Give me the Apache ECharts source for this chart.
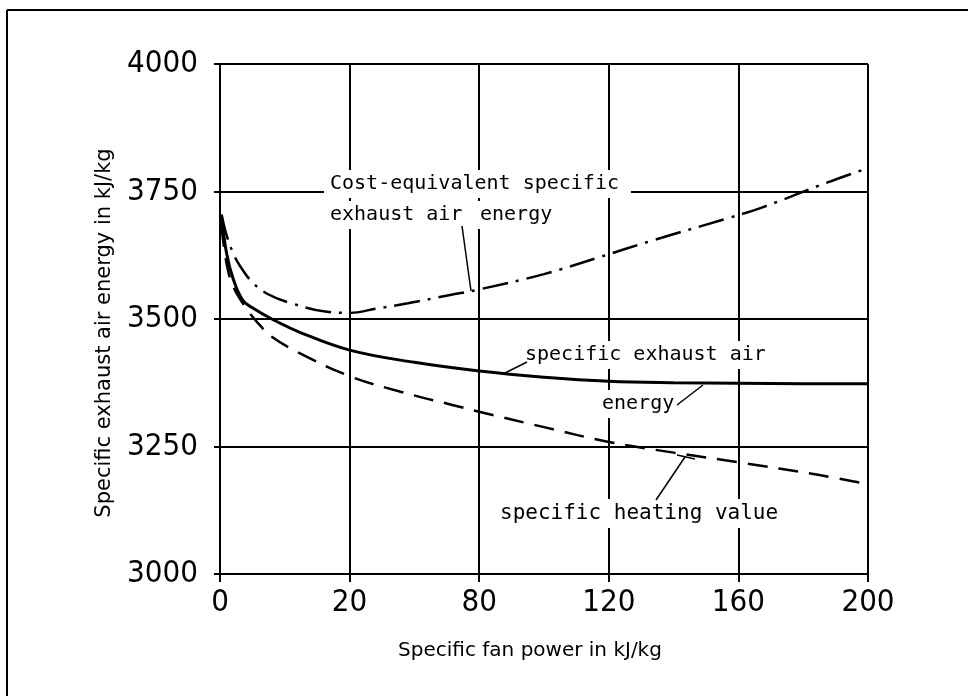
<!DOCTYPE html>
<html>
<head>
<meta charset="utf-8">
<script src="https://cdn.jsdelivr.net/npm/echarts@6/dist/echarts.min.js"></script>
<style>
  html, body { margin: 0; padding: 0; background: #fff; }
  #chart { width: 968px; height: 696px; }
</style>
</head>
<body>
<div id="chart"></div>
<script>
// axis ticks, as printed on the figure
const xTickValues = [0, 40, 80, 120, 160, 200]
const xTickLabels = ['0', '20', '80', '120', '160', '200']

// specific exhaust air energy (solid)
const exhaustX = [0.5, 2, 4, 7, 10, 16, 25, 40, 60, 80, 100, 120, 140, 160, 180, 200]
const exhaustY = [3700, 3630, 3580, 3537, 3522, 3500, 3473, 3439, 3415, 3398, 3386, 3378, 3375, 3374, 3373, 3373]

// specific heating value (dashed)
const heatingX = [0.5, 2, 4, 8, 12, 16, 24, 40, 56, 72, 80, 100, 120, 140, 160, 185, 200]
const heatingY = [3680, 3610, 3565, 3522, 3490, 3465, 3435, 3388, 3357, 3331, 3318, 3288, 3259, 3238, 3219, 3194, 3176]

// cost-equivalent specific exhaust air energy (dash-dot)
const costX = [0.5, 2, 4, 6, 10, 15, 22, 33, 40, 48, 58, 71, 80, 100, 117, 134, 157, 167, 188, 200]
const costY = [3705, 3665, 3630, 3606, 3572, 3548, 3531, 3514, 3512, 3520, 3531, 3547, 3558, 3588, 3621, 3655, 3698, 3718, 3769, 3796]

const pairs = (xs, ys) => xs.map((x, i) => [x, ys[i]])

const tickFont = "'DejaVu Sans Condensed', 'Liberation Sans', sans-serif"
const monoFont = "'DejaVu Sans Mono', monospace"
const black = '#000'

const labelText = (text, left, top, size) => ({
  type: 'text',
  left: left,
  top: top,
  z: 100,
  style: {
    text: text,
    font: size + 'px ' + monoFont,
    fill: black,
    backgroundColor: '#fff',
    padding: [4, 12, 4, 6]
  }
})

const leader = (x1, y1, x2, y2) => ({
  type: 'line',
  z: 100,
  shape: { x1: x1, y1: y1, x2: x2, y2: y2 },
  style: { stroke: black, lineWidth: 1.5 }
})

const option = {
  backgroundColor: '#fff',
  animation: false,
  grid: {
    left: 220,
    right: 100,
    top: 64,
    bottom: 122
  },
  xAxis: {
    type: 'value',
    min: 0,
    max: 200,
    interval: 40,
    name: 'Specific fan power in kJ/kg',
    nameLocation: 'middle',
    nameGap: 67,
    nameTextStyle: {
      fontFamily: 'DejaVu Sans',
      fontSize: 20,
      color: black,
      padding: [0, 28, 0, 0]
    },
    axisLine: { lineStyle: { color: black, width: 2 } },
    axisTick: { show: true, length: 8, lineStyle: { color: black, width: 2 } },
    axisLabel: {
      margin: 13,
      fontFamily: tickFont,
      fontSize: 31,
      color: black,
      formatter: v => xTickLabels[xTickValues.indexOf(v)]
    },
    splitLine: { show: true, lineStyle: { color: black, width: 2 } }
  },
  yAxis: {
    type: 'value',
    min: 3000,
    max: 4000,
    interval: 250,
    name: 'Specific exhaust air energy in kJ/kg',
    nameLocation: 'middle',
    nameGap: 105,
    nameTextStyle: {
      fontFamily: 'DejaVu Sans',
      fontSize: 21,
      color: black,
      padding: [0, 28, 0, 0]
    },
    axisLine: { show: true, lineStyle: { color: black, width: 2 } },
    axisTick: { show: true, length: 6, lineStyle: { color: black, width: 2 } },
    axisLabel: {
      margin: 22,
      fontFamily: tickFont,
      fontSize: 31,
      color: black,
      formatter: v => String(v)
    },
    splitLine: { show: true, lineStyle: { color: black, width: 2 } }
  },
  graphic: [
    // frame of the scanned figure
    { type: 'line', shape: { x1: 7, y1: 10, x2: 968, y2: 10 }, style: { stroke: black, lineWidth: 2 } },
    { type: 'line', shape: { x1: 7, y1: 10, x2: 7, y2: 696 }, style: { stroke: black, lineWidth: 2 } },
    labelText('Cost-equivalent specific', 324, 170, 20),
    labelText('exhaust air', 324, 201, 20),
    labelText('energy', 474, 201, 20),
    labelText('specific exhaust air', 519, 341, 20),
    labelText('energy', 596, 390, 20),
    labelText('specific heating value', 494, 499, 21),
    leader(462, 226, 471, 291),
    leader(527, 362, 505, 373),
    leader(677, 405, 703, 385),
    leader(656, 500, 685, 457),
    leader(677, 455, 695, 459)
  ],
  series: [
    {
      name: 'specific exhaust air energy',
      type: 'line',
      data: pairs(exhaustX, exhaustY),
      smooth: 0.4,
      showSymbol: false,
      lineStyle: { color: black, width: 3 }
    },
    {
      name: 'specific heating value',
      type: 'line',
      data: pairs(heatingX, heatingY),
      smooth: 0.4,
      showSymbol: false,
      lineStyle: { color: black, width: 2.5, type: [20, 11] }
    },
    {
      name: 'Cost-equivalent specific exhaust air energy',
      type: 'line',
      data: pairs(costX, costY),
      smooth: 0.4,
      showSymbol: false,
      lineStyle: { color: black, width: 2.5, type: [26, 8, 3, 8] }
    }
  ]
}

const myChart = echarts.init(document.getElementById('chart'), null, { renderer: 'canvas' })
myChart.setOption(option)
</script>
</body>
</html>
